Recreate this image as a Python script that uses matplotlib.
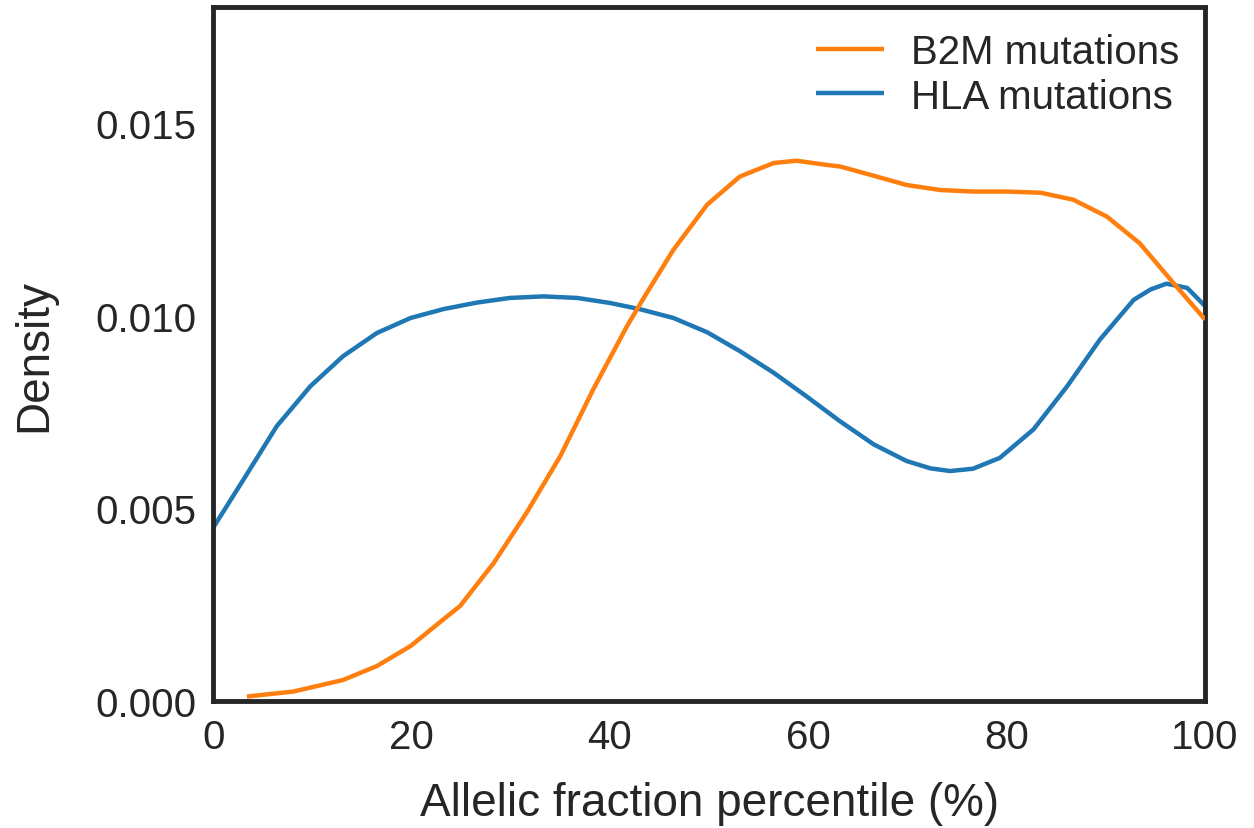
import numpy as np
from matplotlib import pyplot as plt

plt.rcParams['font.family'] = ['Liberation Sans', 'DejaVu Sans']

# values (percentile, density)
b2m_x = [3.4, 8.1, 13.1, 16.5, 19.9, 23.2, 24.9, 28.3, 31.6, 35.0, 38.3, 41.7, 43.5, 46.4, 49.8,
         53.1, 56.5, 58.8, 61.9, 63.2, 66.6, 69.9, 73.3, 76.6, 80.0, 83.4, 86.7, 90.1, 93.4,
         96.8, 100]
b2m_y = [0.00012, 0.00025, 0.00055, 0.00091, 0.00143, 0.00212, 0.00247, 0.00359, 0.00489,
         0.00636, 0.00808, 0.00972, 0.0105, 0.01171, 0.01288, 0.01361, 0.01396, 0.01402,
         0.01391, 0.01387, 0.01363, 0.01339, 0.01326, 0.01322, 0.01322, 0.01319, 0.01301,
         0.01257, 0.01188, 0.01085, 0.0099]

hla_x = [0, 3.06, 6.4, 9.8, 13.1, 16.5, 19.9, 23.2, 26.6, 29.9, 33.3, 36.7, 40.0, 43.0, 46.4,
         49.8, 53.1, 56.5, 59.8, 63.2, 66.6, 69.9, 72.3, 74.3, 76.6, 79.3, 82.7, 86.1, 89.4,
         92.8, 94.5, 96.1, 98.2, 100]
hla_y = [0.0045, 0.00575, 0.00713, 0.00817, 0.00895, 0.00955, 0.00994, 0.01017, 0.01034,
         0.01046, 0.0105, 0.01046, 0.01033, 0.01017, 0.00994, 0.00957, 0.00908, 0.00852,
         0.00791, 0.00726, 0.00666, 0.00623, 0.00604, 0.00597, 0.00603, 0.00631, 0.00705,
         0.00817, 0.00938, 0.01041, 0.01068, 0.01083, 0.01072, 0.01025]

ink = '#262626'
fig = plt.figure(figsize=(12.54, 8.29), dpi=100)
ax = fig.add_axes([0.170, 0.153, 0.791, 0.837])

ax.plot(b2m_x, b2m_y, color='#ff7f0e', lw=3.2, label='B2M mutations', zorder=3,
        solid_capstyle='butt', solid_joinstyle='round')
ax.plot(hla_x, hla_y, color='#1f77b4', lw=3.2, label='HLA mutations', zorder=2,
        solid_capstyle='butt', solid_joinstyle='round')

ax.set_xlim(0, 100)
ax.set_ylim(0, 0.018)
ax.set_xticks([0, 20, 40, 60, 80, 100])
ax.set_yticks([0, 0.005, 0.010, 0.015])
ax.set_yticklabels(['0.000', '0.005', '0.010', '0.015'])
ax.tick_params(length=0, labelsize=29, colors=ink, pad=12)
for s in ax.spines.values():
    s.set_linewidth(3.5)
    s.set_color(ink)

ax.set_xlabel('Allelic fraction percentile (%)', fontsize=33, color=ink, labelpad=18)
ax.set_ylabel('Density', fontsize=33, color=ink, labelpad=28)

leg = ax.legend(loc='upper right', fontsize=29, frameon=False, handlelength=1.7,
                handletextpad=0.65, labelspacing=0.15, borderaxespad=0.25)
for t in leg.get_texts():
    t.set_color(ink)

fig.savefig('out.png', dpi=100)
